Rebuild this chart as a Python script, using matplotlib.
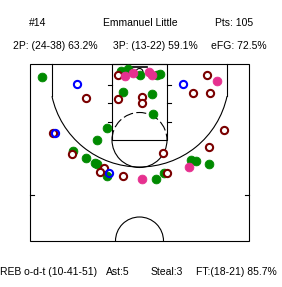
import matplotlib
matplotlib.use("Agg")
import matplotlib.pyplot as plt
from matplotlib.patches import Arc, Rectangle

# ---- data ----
player_number = "#14"
player_name = "Emmanuel Little"
points = 105
fg2 = (24, 38)
fg3 = (13, 22)
efg = 72.5
reb = (10, 41, 51)
ast = 5
steal = 3
ft = (18, 21)

# shot locations (court pixel coordinates: x from left, y from top)
made_x = [41.7, 121.0, 128.3, 140.0, 156.7, 160.0, 122.7, 152.3, 153.3, 106.7, 97.3,
          73.3, 86.0, 95.0, 106.7, 96.7, 190.7, 196.0, 209.3, 156.0, 164.0]
made_y = [76.7, 71.0, 69.3, 75.0, 75.0, 74.0, 92.3, 94.3, 114.0, 127.7, 140.0,
          150.7, 157.7, 162.7, 176.0, 164.0, 160.0, 160.7, 164.3, 179.0, 173.3]

miss_x = [85.7, 52.7, 118.3, 118.3, 141.7, 141.7, 206.7, 192.7, 210.0, 224.0, 209.3,
          163.3, 71.7, 104.3, 100.0, 122.7, 166.7]
miss_y = [97.7, 132.7, 75.0, 99.3, 96.7, 102.5, 75.0, 92.7, 92.7, 130.0, 146.7,
          153.3, 154.0, 168.3, 171.7, 175.7, 173.3]

blue_x = [76.7, 55.3, 183.3, 109.0]
blue_y = [84.0, 132.7, 84.0, 172.7]

pink_x = [125.0, 133.3, 149.3, 151.7, 217.3, 189.0, 141.7]
pink_y = [76.0, 73.3, 71.7, 75.0, 81.0, 167.3, 179.0]

GREEN = "#008a00"
RED = "#7a0000"
BLUE = "#0000ff"
PINK = "#e6308f"

fig = plt.figure(figsize=(2.82, 2.87), dpi=100)
ax = fig.add_axes([0, 0, 1, 1])
ax.set_xlim(0, 282)
ax.set_ylim(287, 0)
ax.axis("off")

lw = 0.8
k = "black"
# court outline
ax.add_patch(Rectangle((29.5, 64), 219.5, 177, fill=False, lw=lw, ec=k))
# lane
ax.add_patch(Rectangle((112, 64), 55, 76, fill=False, lw=lw, ec=k))
for yy in [85, 103, 122]:
    ax.plot([108, 112], [yy, yy], color=k, lw=lw)
    ax.plot([167, 171], [yy, yy], color=k, lw=lw)
# sideline ticks
ax.plot([29.5, 33.5], [195, 195], color=k, lw=lw)
ax.plot([245, 249], [195, 195], color=k, lw=lw)
# free throw circle
ax.add_patch(Arc((139.5, 140), 55, 55, theta1=0, theta2=180, lw=lw, ec=k))
ax.add_patch(Arc((139.5, 140), 55, 55, theta1=180, theta2=360, lw=lw, ec=k,
                 ls=(0, (9, 3))))
# three point line
ax.plot([52, 52], [64, 96.3], color=k, lw=lw)
ax.plot([227, 227], [64, 96.3], color=k, lw=lw)
ax.add_patch(Arc((139.5, 77.5), 179, 179, theta1=12.1, theta2=167.9, lw=lw, ec=k))
# backboard and hoop
ax.plot([132, 147], [67, 67], color=k, lw=1.2)
ax.add_patch(Arc((139.5, 72), 7, 7, lw=lw, ec=k))
# center circle
ax.add_patch(Arc((139.5, 241), 48, 48, theta1=180, theta2=360, lw=lw, ec=k))

# shots
ax.plot(made_x, made_y, "o", ms=6.3, mfc=GREEN, mec=GREEN, mew=0.6, zorder=3)
ax.plot(miss_x, miss_y, "o", ms=5.2, mfc="white", mec=RED, mew=1.5, zorder=4)
ax.plot(blue_x, blue_y, "o", ms=5.2, mfc="none", mec=BLUE, mew=1.5, zorder=5)
ax.plot(pink_x, pink_y, "o", ms=6.3, mfc=PINK, mec=PINK, mew=0.6, zorder=6)

fam = ["Liberation Sans", "DejaVu Sans"]
fs = 7.5
def t(x, y, s, ha="center"):
    ax.text(x, y, s, ha=ha, va="center", fontsize=fs, family=fam)

t(38, 23, player_number)
t(140, 23, player_name)
t(234, 23, f"Pts: {points}")
t(55, 46, f"2P: ({fg2[0]}-{fg2[1]}) {100*fg2[0]/fg2[1]:.1f}%")
t(155, 46, f"3P: ({fg3[0]}-{fg3[1]}) {100*fg3[0]/fg3[1]:.1f}%")
t(239, 46, f"eFG: {efg:.1f}%")
t(0.5, 272, f"REB o-d-t ({reb[0]}-{reb[1]}-{reb[2]})", ha="left")
t(117.5, 272, f"Ast:{ast}")
t(166.5, 272, f"Steal:{steal}")
t(236.5, 272, f"FT:({ft[0]}-{ft[1]}) {100*ft[0]/ft[1]:.1f}%")

fig.savefig("out.png", dpi=100)
